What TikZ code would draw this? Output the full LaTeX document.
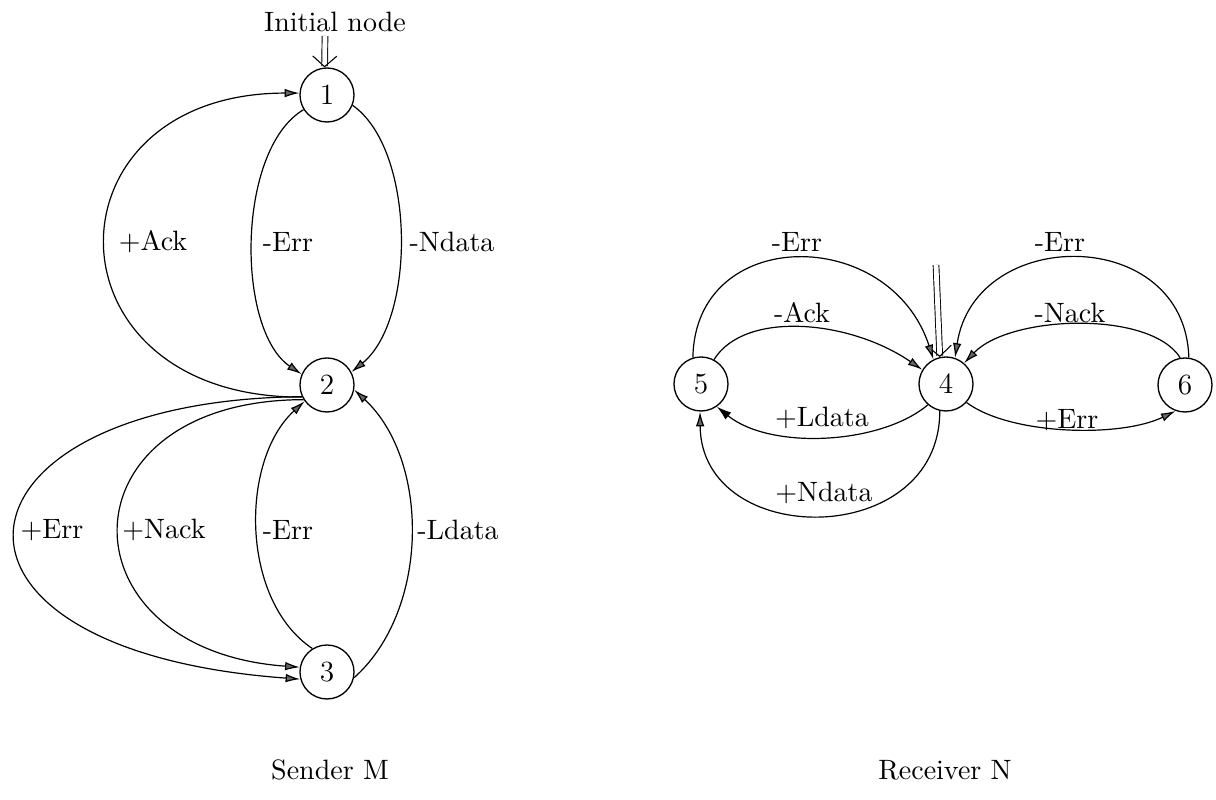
\documentclass[tikz,border=0pt]{standalone}
\usetikzlibrary{arrows.meta}
\begin{document}
\begin{tikzpicture}[x=0.375pt,y=0.375pt,
  state/.style={circle,draw,line width=0.5pt,minimum size=20.25pt,inner sep=0pt,font=\fontsize{11}{13}\selectfont},
  lbl/.style={font=\fontsize{10.5}{12}\selectfont,inner sep=0pt},
  edge/.style={line width=0.45pt,-{Latex[length=5.5pt,width=3.2pt,fill=black!60]}},
  darkedge/.style={line width=0.45pt,-{Latex[length=5.5pt,width=3.4pt]}},
  initarrow/.style={double,double distance=1.8pt,line width=0.35pt,-{Straight Barb[length=4pt,width=9pt,line width=0.4pt]}}]
\useasboundingbox (0,0) rectangle (1216,800);

% ---------- Sender M ----------
\node[state] (n1) at (327,705) {1};
\node[state] (n2) at (327,415) {2};
\node[state] (n3) at (327,128) {3};

\node[lbl] (init1) at (335,778) {Initial node};
\coordinate (s1) at (325,764);
\draw[initarrow] (s1) -- (n1.95);

\draw[edge] (n2.206) .. controls (40,402) and (40,707) .. (n1.176);
\draw[edge] (n1.212) .. controls (236,650) and (236,470) .. (n2.157);
\draw[edge] (n1.338) .. controls (416,650) and (416,480) .. (n2.28);
\draw[edge] (n3.122) .. controls (240,200) and (240,340) .. (n2.216);
\draw[edge] (n3.348) .. controls (430,190) and (430,340) .. (n2.350);
\draw[edge] (n2.212) .. controls (58,400) and (58,150) .. (n3.170);
\draw[edge] (n2.205) .. controls (-60,400) and (-100,150) .. (n3.195);

\node[lbl] (lAck) at (153,558) {+Ack};
\node[lbl] (lErr1) at (288,558) {-Err};
\node[lbl] (lNdata) at (452,558) {-Ndata};
\node[lbl] (lErr2) at (52,270) {+Err};
\node[lbl] (lNack) at (164,270) {+Nack};
\node[lbl] (lErr3) at (288,270) {-Err};
\node[lbl] (lLdata) at (458,270) {-Ldata};

\node[lbl] (sender) at (330,30) {Sender M};

% ---------- Receiver N ----------
\node[state] (n4) at (946,416) {4};
\node[state] (n5) at (701,416) {5};
\node[state] (n6) at (1185,415) {6};

\coordinate (s4) at (936,535);
\draw[initarrow] (s4) -- (n4.103);

\draw[edge] (n5.107) .. controls (695,575) and (890,575) .. (n4.117);
\draw[edge] (n5.62) .. controls (745,490) and (850,480) .. (n4.149);
\draw[edge] (n6.82) .. controls (1185,575) and (975,575) .. (n4.71);
\draw[edge] (n6.100) .. controls (1150,490) and (1010,485) .. (n4.49);
\draw[edge] (n4.318) .. controls (1010,365) and (1120,362) .. (n6.250);
\draw[darkedge] (n4.229) .. controls (880,355) and (770,350) .. (n5.305);
\draw[edge] (n4.257) .. controls (940,250) and (701,250) .. (n5.268);

\node[lbl] (rErr1) at (797,558) {-Err};
\node[lbl] (rAck) at (802,487) {-Ack};
\node[lbl] (rLdata) at (822,382) {+Ldata};
\node[lbl] (rNdata) at (824,307) {+Ndata};
\node[lbl] (rErr2) at (1060,558) {-Err};
\node[lbl] (rNack) at (1070,487) {-Nack};
\node[lbl] (rErr3) at (1067,380) {+Err};

\node[lbl] (receiver) at (945,30) {Receiver N};
\end{tikzpicture}
\end{document}
